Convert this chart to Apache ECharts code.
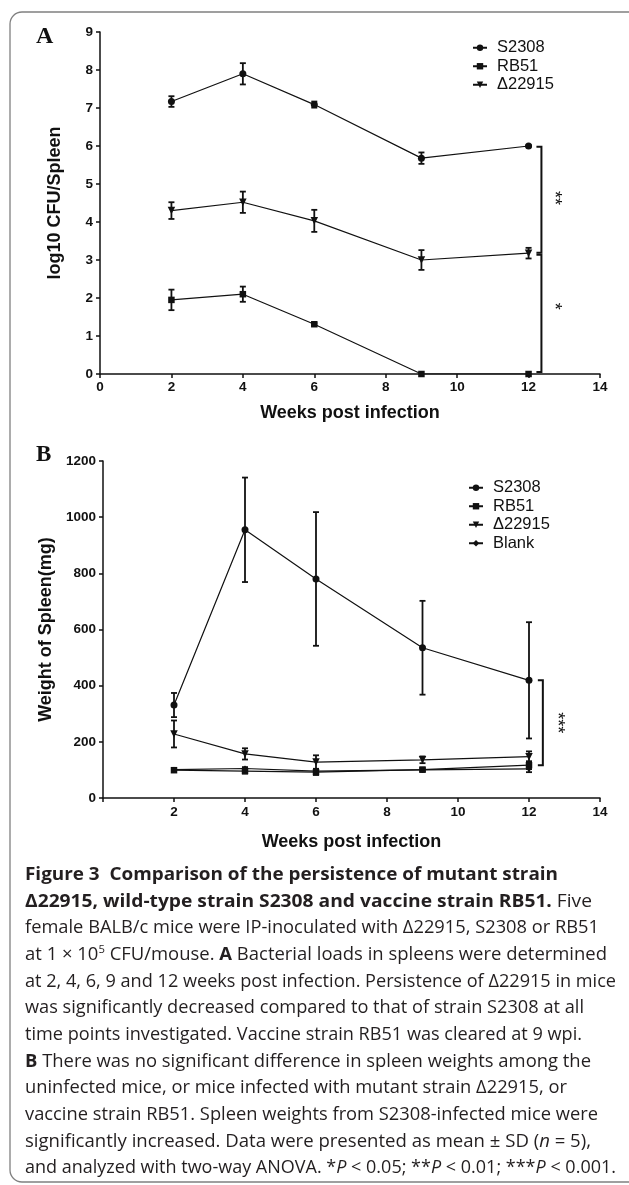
<!DOCTYPE html>
<html><head><meta charset="utf-8">
<script src="https://cdn.jsdelivr.net/npm/echarts@6/dist/echarts.min.js"></script>
<style>html,body{margin:0;padding:0;background:#fff}#c{width:629px;height:1185px}</style>
</head><body><div id="c"></div>
<script>
// ---------- data ----------
const weeks = [2, 4, 6, 9, 12];
const xTicks = [0, 2, 4, 6, 8, 10, 12, 14];

// Panel A: log10 CFU/Spleen (mean, SD)
const cfuS2308 = [7.17, 7.90, 7.09, 5.68, 6.00];
const cfuS2308Sd = [0.14, 0.28, 0.08, 0.15, 0.02];
const cfuRB51 = [1.95, 2.10, 1.31, 0, 0];
const cfuRB51Sd = [0.27, 0.20, 0.03, 0, 0];
const cfuD22915 = [4.30, 4.52, 4.03, 3.00, 3.18];
const cfuD22915Sd = [0.22, 0.28, 0.29, 0.26, 0.14];

// Panel B: Weight of Spleen (mg) (mean, SD)
const wtS2308 = [331, 955, 780, 535, 419];
const wtS2308Sd = [43, 186, 238, 167, 207];
const wtRB51 = [99, 96, 92, 101, 117];
const wtRB51Sd = [6, 9, 10, 7, 14];
const wtD22915 = [228, 157, 128, 136, 147];
const wtD22915Sd = [48, 20, 24, 12, 19];
const wtBlank = [101, 105, 96, 100, 104];
const wtBlankSd = [4, 5, 7, 5, 12];

// significance brackets [x, yTop, yBottom] and labels [x, y, text]
const bracketsA = [[12.36, 5.98, 3.19], [12.36, 3.14, 0.05]];
const starsA = [[12.72, 4.63, '**'], [12.72, 1.78, '*']];
const bracketsB = [[12.39, 419, 117]];
const starsB = [[12.78, 268, '***']];

const namesA = ['S2308', 'RB51', 'Δ22915'];
const namesB = ['S2308', 'RB51', 'Δ22915', 'Blank'];

const captionLines = [
  [['b', 'Figure 3  Comparison of the persistence of mutant strain']],
  [['b', 'Δ22915, wild-type strain S2308 and vaccine strain RB51.'], ['r', ' Five']],
  [['r', 'female BALB/c mice were IP-inoculated with Δ22915, S2308 or RB51']],
  [['r', 'at 1 × 10'], ['sup', '5'], ['r', ' CFU/mouse. '], ['b', 'A'], ['r', ' Bacterial loads in spleens were determined']],
  [['r', 'at 2, 4, 6, 9 and 12 weeks post infection. Persistence of Δ22915 in mice']],
  [['r', 'was significantly decreased compared to that of strain S2308 at all']],
  [['r', 'time points investigated. Vaccine strain RB51 was cleared at 9 wpi.']],
  [['b', 'B'], ['r', ' There was no significant difference in spleen weights among the']],
  [['r', 'uninfected mice, or mice infected with mutant strain Δ22915, or']],
  [['r', 'vaccine strain RB51. Spleen weights from S2308-infected mice were']],
  [['r', 'significantly increased. Data were presented as mean ± SD ('], ['i', 'n'], ['r', ' = 5),']],
  [['r', 'and analyzed with two-way ANOVA. *'], ['i', 'P'], ['r', ' < 0.05; **'], ['i', 'P'], ['r', ' < 0.01; ***'], ['i', 'P'], ['r', ' < 0.001.']]
];

// ---------- layout / style ----------
const capLeft = 25, capTop = 875, capStep = 26.65;
const capEnds = [558, 592, 599, 607, 616, 584, 582, 591, 567, 598, 591, 616];
const INK = '#111';
const SANS = 'Liberation Sans, Arial, sans-serif';

const symbols = {
  'S2308': {symbol: 'circle', symbolSize: 7, symbolRotate: 0},
  'RB51': {symbol: 'rect', symbolSize: 6.5, symbolRotate: 0},
  'Δ22915': {symbol: 'triangle', symbolSize: 7.5, symbolRotate: 180},
  'Blank': {symbol: 'diamond', symbolSize: 6, symbolRotate: 0}
};

function lineSeries(name, xs, ys, gi) {
  return Object.assign({
    type: 'line', name, xAxisIndex: gi, yAxisIndex: gi,
    data: xs.map((x, i) => [x, ys[i]]),
    lineStyle: {color: INK, width: 1.2},
    itemStyle: {color: INK},
    showSymbol: true, animation: false, z: 3,
    emphasis: {disabled: true}
  }, symbols[name]);
}

function errSeries(xs, ys, sds, gi) {
  return {
    type: 'custom', xAxisIndex: gi, yAxisIndex: gi, z: 4, animation: false,
    silent: true,
    data: xs.map((x, i) => [x, ys[i], sds[i]]),
    encode: {x: 0, y: 1},
    renderItem: function (params, api) {
      const x = api.value(0), y = api.value(1), e = api.value(2);
      if (!e) return null;
      const t = api.coord([x, y + e]), b = api.coord([x, y - e]);
      const h = 3;
      const st = {stroke: INK, lineWidth: 1.8, fill: null};
      return {type: 'group', children: [
        {type: 'line', shape: {x1: t[0], y1: t[1], x2: b[0], y2: b[1]}, style: st},
        {type: 'line', shape: {x1: t[0] - h, y1: t[1], x2: t[0] + h, y2: t[1]}, style: st},
        {type: 'line', shape: {x1: b[0] - h, y1: b[1], x2: b[0] + h, y2: b[1]}, style: st}
      ]};
    }
  };
}

function bracketSeries(list, gi) {
  return {
    type: 'custom', xAxisIndex: gi, yAxisIndex: gi, z: 5, animation: false, silent: true,
    data: list, encode: {x: 0, y: 1},
    renderItem: function (params, api) {
      const x = api.value(0);
      const t = api.coord([x, api.value(1)]), b = api.coord([x, api.value(2)]);
      return {type: 'polyline', shape: {points: [[t[0] - 5, t[1]], [t[0], t[1]], [b[0], b[1]], [b[0] - 5, b[1]]]},
        style: {stroke: INK, lineWidth: 2, fill: null}};
    }
  };
}

function starSeries(list, gi) {
  return {
    type: 'custom', xAxisIndex: gi, yAxisIndex: gi, z: 5, animation: false, silent: true,
    data: list.map(d => [d[0], d[1], d[2]]), encode: {x: 0, y: 1},
    renderItem: function (params, api) {
      const p = api.coord([api.value(0), api.value(1)]);
      const txt = list[params.dataIndex][2];
      return {type: 'text', x: p[0], y: p[1], rotation: -Math.PI / 2,
        style: {text: txt, fontSize: 18, fontFamily: SANS, fill: INK, align: 'center', verticalAlign: 'middle'}};
    }
  };
}

function xAxis(gi, hideZero, labelMargin, nameGap) {
  return {
    type: 'value', gridIndex: gi, min: 0, max: 14, interval: 2,
    name: 'Weeks post infection', nameLocation: 'middle', nameGap: nameGap,
    nameTextStyle: {fontFamily: SANS, fontWeight: 'bold', fontSize: 18, color: INK},
    axisLine: {show: true, onZero: false, lineStyle: {color: INK, width: 1.5}},
    axisTick: {show: true, length: 4, lineStyle: {color: INK, width: 1.5}},
    axisLabel: {fontFamily: SANS, fontWeight: 'bold', fontSize: 13.5, color: INK, margin: labelMargin,
      formatter: v => (hideZero && v === 0) ? '' : String(v)},
    splitLine: {show: false}
  };
}

function yAxis(gi, max, interval, name, nameGap) {
  return {
    type: 'value', gridIndex: gi, min: 0, max: max, interval: interval,
    name: name, nameLocation: 'middle', nameGap: nameGap,
    nameTextStyle: {fontFamily: SANS, fontWeight: 'bold', fontSize: 18, color: INK},
    axisLine: {show: true, onZero: false, lineStyle: {color: INK, width: 1.5}},
    axisTick: {show: true, length: 4, lineStyle: {color: INK, width: 1.5}},
    axisLabel: {fontFamily: SANS, fontWeight: 'bold', fontSize: 13.5, color: INK, margin: 7,
      formatter: v => String(v)},
    splitLine: {show: false}
  };
}

function legend(names, left, top) {
  return {
    data: names, orient: 'vertical', left: left, top: top,
    itemWidth: 14, itemHeight: 8, itemGap: 1, selectedMode: false,
    textStyle: {fontFamily: SANS, fontSize: 16.5, lineHeight: 17.5, color: INK, padding: [0, 0, 0, 5]}
  };
}

// ---------- caption ----------
const capStyles = {
  r: {fontFamily: 'Open Sans', fontSize: 18, fontWeight: 'normal', fontStyle: 'normal', lineHeight: 22, fill: '#231f20'},
  b: {fontFamily: 'Open Sans', fontSize: 18, fontWeight: 'bold', fontStyle: 'normal', lineHeight: 22, fill: '#231f20'},
  i: {fontFamily: 'Open Sans', fontSize: 18, fontWeight: 'normal', fontStyle: 'italic', lineHeight: 22, fill: '#231f20'},
  sup: {fontFamily: 'Open Sans', fontSize: 11, fontWeight: 'normal', fontStyle: 'normal', lineHeight: 22, verticalAlign: 'top', fill: '#231f20'}
};
const mctx = document.createElement('canvas').getContext('2d');
function measure(seg) {
  const s = capStyles[seg[0]];
  mctx.font = s.fontStyle + ' ' + s.fontWeight + ' ' + s.fontSize + 'px "' + s.fontFamily + '"';
  return mctx.measureText(seg[1]).width;
}
const captionGraphics = captionLines.map((segs, i) => {
  const w = segs.reduce((a, s) => a + measure(s), 0);
  const sx = (capEnds[i] - capLeft) / w;
  return {
    type: 'text', x: capLeft, y: capTop + i * capStep, scaleX: sx, silent: true,
    style: {text: segs.map(s => '{' + s[0] + '|' + s[1] + '}').join(''), rich: capStyles,
      align: 'left', verticalAlign: 'middle'}
  };
});

// ---------- option ----------
const option = {
  backgroundColor: '#fff',
  animation: false,
  grid: [
    {left: 100, top: 32, width: 500, height: 342},
    {left: 103, top: 461, width: 497, height: 337}
  ],
  xAxis: [xAxis(0, false, 6, 30), xAxis(1, true, 7, 35)],
  yAxis: [yAxis(0, 9, 1, 'log10 CFU/Spleen', 36), yAxis(1, 1200, 200, 'Weight of Spleen(mg)', 46)],
  legend: [legend(namesA, 467, 34), legend(namesB, 463, 474)],
  series: [
    lineSeries('S2308', weeks, cfuS2308, 0),
    lineSeries('RB51', weeks, cfuRB51, 0),
    lineSeries('Δ22915', weeks, cfuD22915, 0),
    errSeries(weeks, cfuS2308, cfuS2308Sd, 0),
    errSeries(weeks, cfuRB51, cfuRB51Sd, 0),
    errSeries(weeks, cfuD22915, cfuD22915Sd, 0),
    bracketSeries(bracketsA, 0),
    starSeries(starsA, 0),
    lineSeries('S2308', weeks, wtS2308, 1),
    lineSeries('RB51', weeks, wtRB51, 1),
    lineSeries('Δ22915', weeks, wtD22915, 1),
    lineSeries('Blank', weeks, wtBlank, 1),
    errSeries(weeks, wtS2308, wtS2308Sd, 1),
    errSeries(weeks, wtRB51, wtRB51Sd, 1),
    errSeries(weeks, wtD22915, wtD22915Sd, 1),
    errSeries(weeks, wtBlank, wtBlankSd, 1),
    bracketSeries(bracketsB, 1),
    starSeries(starsB, 1)
  ],
  graphic: [
    {type: 'rect', shape: {x: 10, y: 12, width: 700, height: 1170, r: 12}, silent: true,
      style: {fill: null, stroke: '#808080', lineWidth: 1.3}},
    {type: 'text', x: 36, y: 37, silent: true,
      style: {text: 'A', fontFamily: 'Liberation Serif, Times New Roman, serif', fontWeight: 'bold', fontSize: 24, fill: INK, verticalAlign: 'middle'}},
    {type: 'text', x: 36, y: 455, silent: true,
      style: {text: 'B', fontFamily: 'Liberation Serif, Times New Roman, serif', fontWeight: 'bold', fontSize: 23, fill: INK, verticalAlign: 'middle'}}
  ].concat(captionGraphics)
};

const chart = echarts.init(document.getElementById('c'), null, {renderer: 'canvas'});
chart.setOption(option);
</script></body></html>
